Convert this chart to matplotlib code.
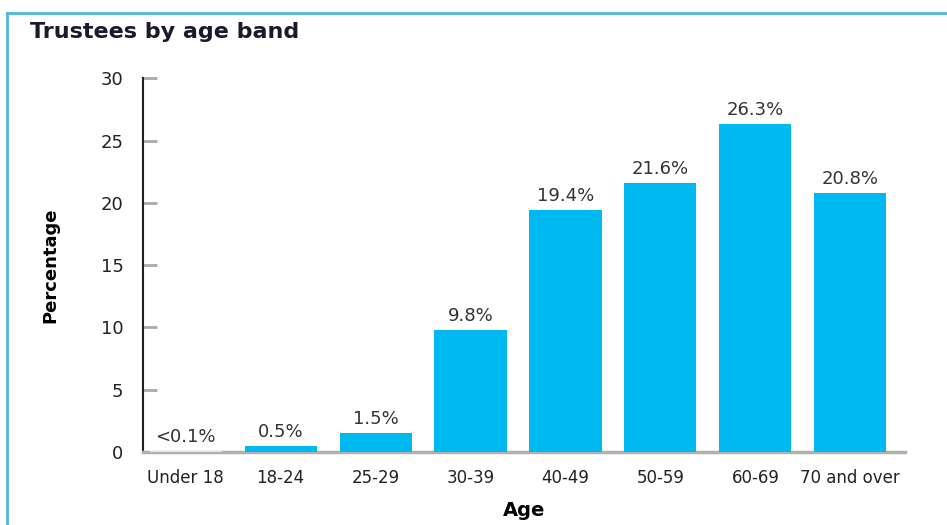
import matplotlib.pyplot as plt
from matplotlib.lines import Line2D

ages = ["Under 18", "18-24", "25-29", "30-39", "40-49", "50-59", "60-69", "70 and over"]
values = [0.1, 0.5, 1.5, 9.8, 19.4, 21.6, 26.3, 20.8]
labels = ["<0.1%", "0.5%", "1.5%", "9.8%", "19.4%", "21.6%", "26.3%", "20.8%"]

plt.rcParams['font.family'] = ['DejaVu Sans']

fig = plt.figure(figsize=(9.47, 5.25), dpi=100)
ax = fig.add_axes([0.151, 0.139, 0.805, 0.712])

colors = ['#d4f1fb'] + ['#00b9f0'] * (len(ages) - 1)
x = range(len(ages))
ax.bar(x, values, width=0.76, color=colors, zorder=3)

for i, (v, lab) in enumerate(zip(values, labels)):
    ax.text(i, v + 0.4, lab, ha='center', va='bottom', fontsize=13, color='#333333')

ax.set_xlim(-0.45, 7.58)
ax.set_ylim(0, 30)
ax.set_yticks([0, 5, 10, 15, 20, 25, 30])
ax.set_xticks(list(x))
ax.set_xticklabels(ages, fontsize=12, color='#222222')
ax.tick_params(axis='y', direction='in', length=10, width=2, color='#aaaaaa',
               labelsize=13, labelcolor='#222222', pad=14)
ax.tick_params(axis='x', length=0, pad=12)

for s in ['top', 'right']:
    ax.spines[s].set_visible(False)
ax.spines['left'].set_color('#222222')
ax.spines['left'].set_linewidth(1.5)
ax.spines['bottom'].set_color('#b0b0b0')
ax.spines['bottom'].set_linewidth(2.5)

ax.set_ylabel("Percentage", fontsize=13, fontweight='bold', labelpad=30)
ax.set_xlabel("Age", fontsize=14, fontweight='bold', labelpad=10)

fig.text(0.032, 0.94, "Trustees by age band", fontsize=16, fontweight='bold',
         color='#1a1a2e', ha='left', va='center')

# blue frame
fig.add_artist(Line2D([7 / 947, 1], [1 - 13 / 525] * 2, color='#4cb6dc', lw=2))
fig.add_artist(Line2D([7 / 947] * 2, [0, 1 - 13 / 525], color='#4cb6dc', lw=2))

fig.savefig("out.png", dpi=100)
